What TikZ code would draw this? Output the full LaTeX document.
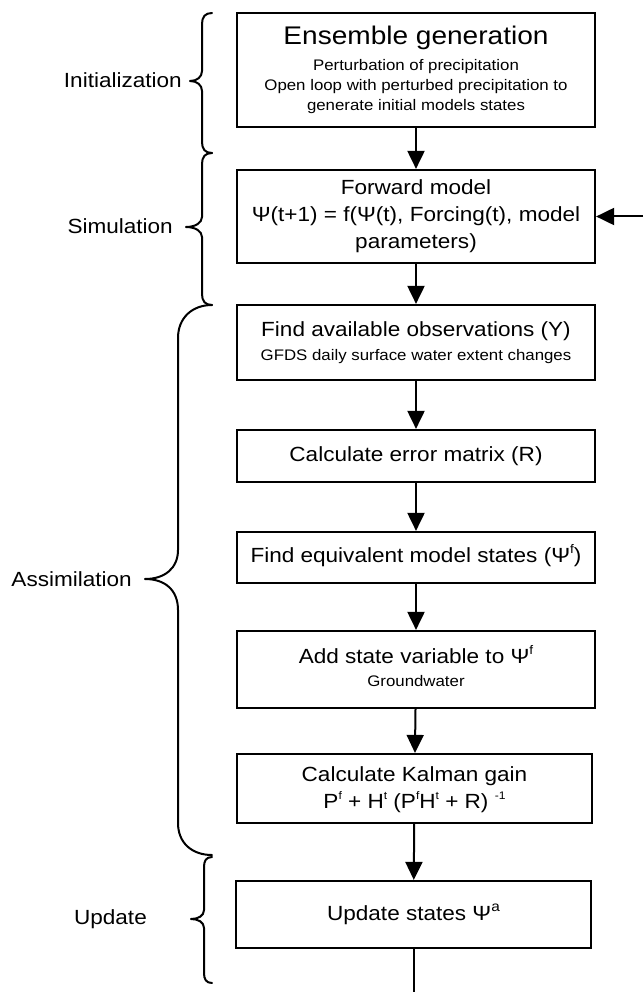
\documentclass[tikz,border=0pt]{standalone}
\usepackage{fontspec}
\setmainfont{Liberation Sans}[FakeStretch=1.1]
\usetikzlibrary{arrows.meta}
\newcommand{\fsz}[1]{\fontsize{#1}{#1}\selectfont}
\newcommand{\supx}[2][12.5]{\raisebox{0.42em}{\fsz{#1}#2}}
\begin{document}
\begin{tikzpicture}[x=1pt,y=-1pt,
  box/.style={draw, line width=2.2pt, inner sep=0pt},
  txt/.style={inner sep=0pt, anchor=base, font=\fsz{20.5}},
  sub/.style={inner sep=0pt, anchor=base, font=\fsz{15.3}},
  lbl/.style={inner sep=0pt, anchor=base east, font=\fsz{20.5}},
  arr/.style={line width=2pt, -{Triangle[width=17pt,length=18pt]}},
  brc/.style={line width=2pt, line cap=round, line join=round}]
\useasboundingbox (0,0) rectangle (643,992);
% boxes
\node[box, minimum width=358pt, minimum height=114pt] (b1) at (416,70) {};
\node[box, minimum width=358pt, minimum height=93pt] (b2) at (416,216.5) {};
\node[box, minimum width=358pt, minimum height=75pt] (b3) at (416,342.5) {};
\node[box, minimum width=358pt, minimum height=52pt] (b4) at (416,456) {};
\node[box, minimum width=358pt, minimum height=51pt] (b5) at (416,557.5) {};
\node[box, minimum width=358pt, minimum height=77pt] (b6) at (416,669.5) {};
\node[box, minimum width=355pt, minimum height=69pt] (b7) at (414.5,788.5) {};
\node[box, minimum width=355pt, minimum height=67pt] (b8) at (413.5,914.5) {};
% texts
\node[txt, font=\fsz{25.5}] (t1a) at (416,45) {Ensemble generation};
\node[sub] (t1b) at (416,70.7) {Perturbation of precipitation};
\node[sub] (t1c) at (416,90.7) {Open loop with perturbed precipitation to};
\node[sub] (t1d) at (416,110.7) {generate initial models states};
\node[txt] (t2a) at (416,195) {Forward model};
\node[txt] (t2b) at (416,221.7) {Ψ(t+1) = f(Ψ(t), Forcing(t), model};
\node[txt] (t2c) at (416,248.3) {parameters)};
\node[txt] (t3a) at (416,336.7) {Find available observations (Y)};
\node[sub] (t3b) at (416,360) {GFDS daily surface water extent changes};
\node[txt] (t4) at (416,461) {Calculate error matrix (R)};
\node[txt] (t5) at (416,562.3) {Find equivalent model states (Ψ\supx{f})};
\node[txt] (t6a) at (416,663.3) {Add state variable to Ψ\supx{f}};
\node[sub] (t6b) at (416,686.7) {Groundwater};
\node[txt] (t7a) at (414.5,781.7) {Calculate Kalman gain};
\node[txt] (t7b) at (414.5,808.3) {P\supx[11]{f} + H\supx[11]{t} (P\supx[11]{f}H\supx[11]{t} + R) \supx[11]{-1}};
\node[txt] (t8) at (413.5,920) {Update states Ψ\supx[14]{a}};
% labels
\node[lbl] (linit) at (182,88) {Initialization};
\node[lbl] (lsim) at (173,233.5) {Simulation};
\node[lbl] (lass) at (132,586) {Assimilation};
\node[lbl] (lupd) at (147,924) {Update};
% connectors
\draw[arr] (b1) -- (b2);
\draw[arr] (b2) -- (b3);
\draw[arr] (b3) -- (b4);
\draw[arr] (b4) -- (b5);
\draw[arr] (b5) -- (b6);
\draw[arr] (b6) -- (b7);
\draw[arr] (b7) -- (b8);
\coordinate (fb) at (643,216.5);
\draw[arr] (fb) -- (b2.east);
\coordinate (endp) at (413.5,992);
\draw[line width=2pt] (b8.south) -- (endp);
% braces
\draw[brc] (212,13) .. controls (205,13) and (202,17) .. (202,24) -- (202,71)
  .. controls (202,77) and (197,81) .. (190,81)
  .. controls (197,81) and (202,85) .. (202,91) -- (202,142)
  .. controls (202,149) and (205,153) .. (212,153);
\draw[brc] (212,153) .. controls (205,153) and (202,157) .. (202,164) -- (202,217)
  .. controls (202,223) and (195,227) .. (186,227)
  .. controls (195,227) and (202,231) .. (202,237) -- (202,294)
  .. controls (202,301) and (205,305) .. (212,305);
\draw[brc] (212,305) .. controls (192,305) and (178,318) .. (178,338) -- (178,550)
  .. controls (178,568) and (165,579) .. (145,579)
  .. controls (165,579) and (178,590) .. (178,610) -- (178,823)
  .. controls (178,843) and (192,855) .. (212,855);
\draw[brc] (212,857) .. controls (206,857) and (204,861) .. (204,867) -- (204,910)
  .. controls (204,916) and (198,919) .. (191,919)
  .. controls (198,919) and (204,922) .. (204,928) -- (204,973)
  .. controls (204,979) and (206,983) .. (212,983);
\end{tikzpicture}
\end{document}
